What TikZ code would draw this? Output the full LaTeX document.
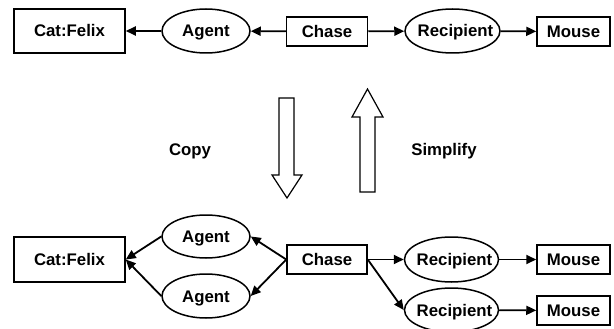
\documentclass[tikz,border=0pt]{standalone}
\usepackage{fontspec}
\setmainfont{Liberation Sans}
\usetikzlibrary{shapes.geometric,arrows.meta}
\newcommand{\flatlabel}[1]{\makebox[0pt]{#1}}
\begin{document}
\begin{tikzpicture}[x=1pt,y=-1pt,
  every node/.style={font=\fontsize{16.8}{18}\selectfont\bfseries, inner sep=0pt,
    text height=12pt, text depth=0pt},
  concept/.style={draw, line width=1.5pt, rectangle},
  relation/.style={draw, line width=1.5pt, ellipse},
  link/.style={line width=1.8pt, -{Triangle[length=10pt,width=9pt]}},
  blockarrow/.style={draw, line width=1.2pt, fill=white, line join=miter}]
\useasboundingbox (0,0) rectangle (614,329);

% upper graph
\node[concept, minimum width=111pt, minimum height=44pt] (catT) at (69.5,31) {Cat:Felix\hspace{14pt}};
\node[relation, minimum width=88pt, minimum height=44pt] (agT) at (206,31) {\flatlabel{Agent}};
\node[concept, minimum width=81pt, minimum height=29pt] (chT) at (327,31.5) {Chase};
\node[relation, minimum width=95pt, minimum height=44pt] (reT) at (452.5,31) {\flatlabel{\hspace{6pt}Recipient}};
\node[concept, minimum width=73pt, minimum height=29pt] (moT) at (573.5,31.5) {Mouse};

\draw[link] (chT) -- (agT);
\draw[link] (agT) -- (catT);
\draw[link] (chT) -- (reT);
\draw[link] (reT) -- (moT);

% lower graph
\node[concept, minimum width=111pt, minimum height=45pt] (catB) at (69.5,259.5) {Cat:Felix\hspace{14pt}};
\node[relation, minimum width=88pt, minimum height=43pt] (agB1) at (206,236.5) {\flatlabel{Agent}};
\node[relation, minimum width=88pt, minimum height=44pt] (agB2) at (206,296) {\flatlabel{Agent}};
\node[concept, minimum width=80pt, minimum height=29pt] (chB) at (327,259.5) {Chase};
\node[relation, minimum width=94pt, minimum height=45pt] (reB1) at (451.5,259.5) {\flatlabel{\hspace{6pt}Recipient}};
\node[relation, minimum width=94pt, minimum height=44pt] (reB2) at (451.5,310) {\flatlabel{\hspace{6pt}Recipient}};
\node[concept, minimum width=73pt, minimum height=29pt] (moB1) at (573.5,259.5) {Mouse};
\node[concept, minimum width=73pt, minimum height=29pt] (moB2) at (573.5,310.5) {Mouse};

\draw[link] (chB.west) -- (agB1.east);
\draw[link] (chB.west) -- (agB2.east);
\draw[link] (agB1.west) -- (catB.east);
\draw[link] (agB2.west) -- (catB.east);
\draw[link] (chB.east) -- (reB1.west);
\draw[link] (chB.east) -- (reB2.west);
\draw[link] (reB1) -- (moB1);
\draw[link] (reB2) -- (moB2);

% transformation arrows
\draw[blockarrow] (279,98) -- (294,98) -- (294,175) -- (302,175) -- (287,198)
  -- (272,175) -- (279,175) -- cycle;
\draw[blockarrow] (360,192) -- (375,192) -- (375,117) -- (383,117) -- (367.5,89)
  -- (352,117) -- (360,117) -- cycle;
\node (copy) at (190,150) {Copy};
\node (simp) at (444,150) {Simplify};
\end{tikzpicture}
\end{document}
